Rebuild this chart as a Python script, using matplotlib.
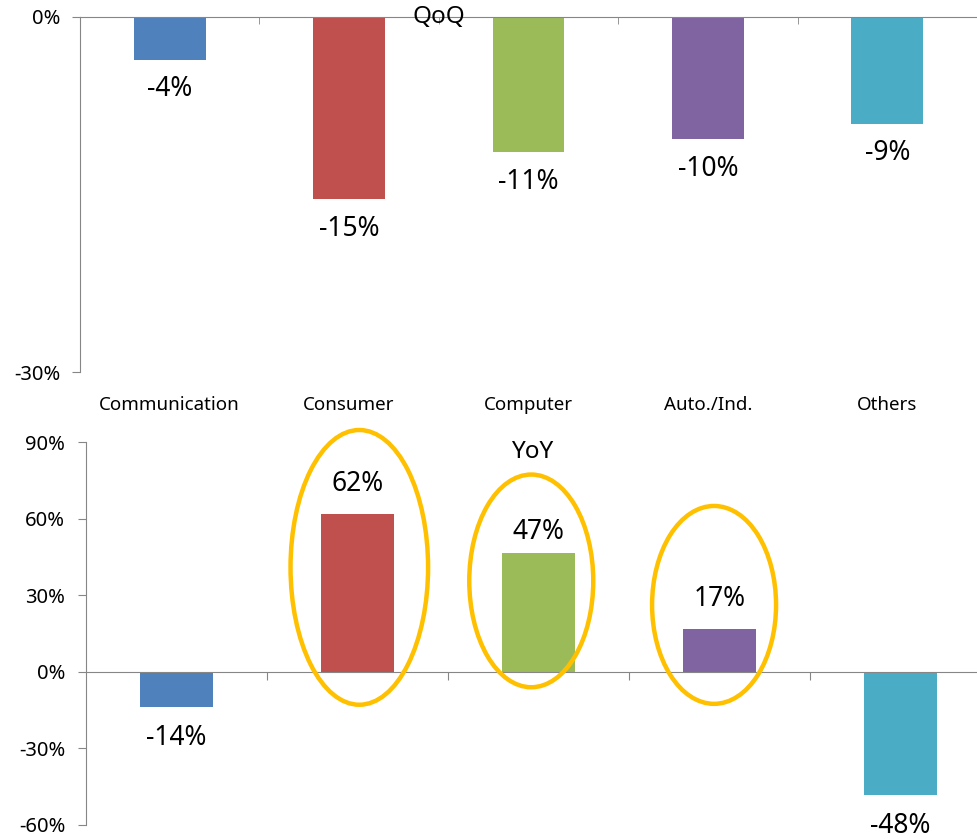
import matplotlib
matplotlib.use("Agg")
import matplotlib.pyplot as plt
from matplotlib.patches import Ellipse
import numpy as np

plt.rcParams['font.family'] = ['Noto Sans', 'DejaVu Sans']

categories = ["Communication", "Consumer", "Computer", "Auto./Ind.", "Others"]
qoq_values = [-3.6, -15.4, -11.4, -10.3, -9.0]
yoy_values = [-13.7, 61.9, 46.6, 16.7, -48.1]
colors = ["#4F81BD", "#C0504D", "#9BBB59", "#8064A2", "#4BACC6"]
qoq_ticks = [-30, 0]
yoy_ticks = [-60, -30, 0, 30, 60, 90]
highlight_idx = [1, 2, 3]

W, H = 977, 839
fig = plt.figure(figsize=(W / 100, H / 100), dpi=100)

def fr(x0, y0, x1, y1):
    return [x0 / W, 1 - y1 / H, (x1 - x0) / W, (y1 - y0) / H]

spine_col = "#868686"
x = np.arange(len(categories))

# ---------- QoQ ----------
ax1 = fig.add_axes(fr(80, 17, 977, 372))
ax1.bar(x, qoq_values, width=0.40, color=colors)
ax1.set_xlim(-0.5, len(categories) - 0.5)
ax1.set_ylim(-30, 0)
for s in ["right", "bottom"]:
    ax1.spines[s].set_visible(False)
for s in ["top", "left"]:
    ax1.spines[s].set_color(spine_col)
ax1.set_yticks(qoq_ticks)
ax1.set_yticklabels([f"{v}%" for v in qoq_ticks], fontsize=14.5)
ax1.tick_params(axis='y', length=6, color=spine_col, pad=8)
ax1.set_xticks(x)
ax1.set_xticklabels(categories, fontsize=13.5)
ax1.tick_params(axis='x', which='major', length=0, pad=17)
ax1.set_xticks(np.arange(len(categories)) + 0.5, minor=True)
ax1.tick_params(axis='x', which='minor', top=True, bottom=False, direction='in',
                length=5, color=spine_col)
for i, v in enumerate(qoq_values):
    ax1.annotate(f"{v:.0f}%", (i, v), xytext=(0, -21.5), textcoords='offset points',
                 ha='center', va='center', fontsize=19)
ax1.text(1.5, 0, "QoQ", ha='center', va='center', fontsize=17.5)

# ---------- YoY ----------
ax2 = fig.add_axes(fr(86, 442, 991, 825))
ax2.bar(x, yoy_values, width=0.40, color=colors)
ax2.set_xlim(-0.5, len(categories) - 0.5)
ax2.set_ylim(-60, 90)
ax2.spines["top"].set_visible(False)
ax2.spines["right"].set_visible(False)
ax2.spines["left"].set_color(spine_col)
ax2.spines["bottom"].set_color(spine_col)
ax2.spines["bottom"].set_position(('data', 0))
ax2.set_yticks(yoy_ticks)
ax2.set_yticklabels([f"{v}%" for v in yoy_ticks], fontsize=14.5)
ax2.tick_params(axis='y', length=6, color=spine_col, pad=9)
ax2.set_xticks(np.arange(len(categories)) + 0.5)
ax2.set_xticklabels([])
ax2.tick_params(axis='x', direction='out', length=6, color=spine_col)
for i, v in enumerate(yoy_values):
    off = 21.5 if v >= 0 else -22.5
    if i == 2:
        off = 15
    ax2.annotate(f"{v:.0f}%", (i, v), xytext=(0, off), textcoords='offset points',
                 ha='center', va='center', fontsize=19)
ax2.text(1.964, 86, "YoY", ha='center', va='center', fontsize=17.5)

# highlight ellipses (annotation)
ell_specs = {1: (1.01, 40.9, 0.76, 107.6), 2: (1.96, 35.6, 0.685, 83.3), 3: (2.97, 26.2, 0.685, 77.5)}
for i in highlight_idx:
    cx, cy, w, h = ell_specs[i]
    e = Ellipse((cx, cy), w, h, fill=False, edgecolor="#FFC000", linewidth=3.2, clip_on=False, zorder=5)
    ax2.add_patch(e)

fig.savefig("out.png", dpi=100)
